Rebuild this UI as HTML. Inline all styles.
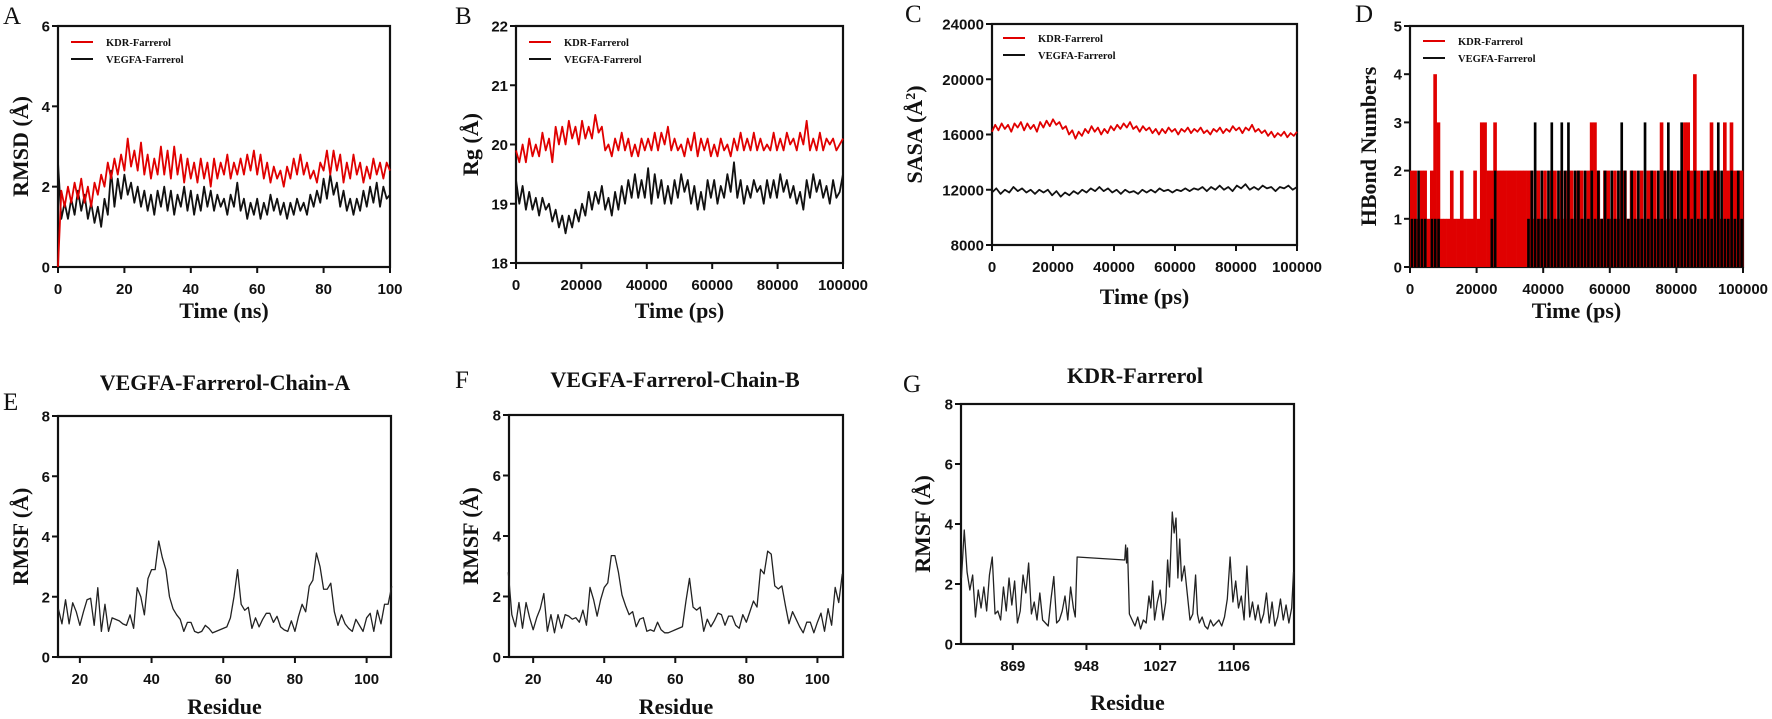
<!DOCTYPE html>
<html><head><meta charset="utf-8">
<style>
html,body{margin:0;padding:0;background:#fff;}
svg{display:block;}
.tk{font-family:"Liberation Sans",sans-serif;font-weight:bold;font-size:15px;fill:#111;}
.at{font-family:"Liberation Serif",serif;font-weight:bold;font-size:22px;fill:#111;}
.pl{font-family:"Liberation Serif",serif;font-size:25px;fill:#111;}
.lg{font-family:"Liberation Serif",serif;font-weight:bold;font-size:10.5px;fill:#111;}
.tt{font-family:"Liberation Serif",serif;font-weight:bold;font-size:22px;fill:#111;}
</style></head>
<body>
<svg id="fig" width="1772" height="719" viewBox="0 0 1772 719" xmlns="http://www.w3.org/2000/svg"></svg>
<script>
// ---------- DATA ----------
const rmsdTicksX = [0,20,40,60,80,100];
const rmsdTicksY = [0,2,4,6];
const rmsdKDR = [0,1.9,1.5,2.0,1.6,2.1,1.7,2.2,1.6,2.0,1.5,2.1,1.8,2.3,2.0,2.6,2.2,2.7,2.3,2.8,2.4,3.2,2.5,2.9,2.4,3.1,2.3,2.8,2.2,2.7,2.3,3.0,2.3,2.9,2.2,3.0,2.3,2.8,2.1,2.7,2.2,2.6,2.1,2.7,2.2,2.6,2.0,2.7,2.2,2.6,2.3,2.8,2.2,2.6,2.3,2.7,2.3,2.8,2.4,2.9,2.3,2.8,2.2,2.6,2.1,2.5,2.2,2.4,2.0,2.5,2.2,2.7,2.3,2.8,2.3,2.6,2.2,2.4,2.1,2.6,2.4,2.9,2.3,2.9,2.4,2.8,2.1,2.6,2.2,2.8,2.3,2.6,2.1,2.5,2.2,2.7,2.3,2.6,2.2,2.6,2.4];
const rmsdVEGFA = [2.6,1.2,1.6,1.2,1.7,1.3,1.9,1.4,1.8,1.2,1.6,1.1,1.5,1.0,1.7,1.3,2.4,1.5,2.2,1.7,2.3,1.8,2.1,1.6,2.0,1.5,1.9,1.4,1.8,1.3,1.9,1.5,2.0,1.4,1.9,1.3,1.8,1.5,2.0,1.4,1.9,1.3,1.8,1.4,2.0,1.5,1.9,1.4,1.8,1.5,1.7,1.3,1.8,1.5,2.1,1.4,1.7,1.2,1.6,1.3,1.7,1.2,1.6,1.3,1.8,1.4,1.7,1.3,1.6,1.2,1.6,1.3,1.7,1.4,1.6,1.3,1.8,1.5,1.9,1.6,2.2,1.7,2.3,1.8,2.1,1.5,1.9,1.4,1.7,1.3,1.7,1.4,1.9,1.5,2.0,1.6,2.1,1.5,2.0,1.7,1.8];

const psTicksX = [0,20000,40000,60000,80000,100000];
const rgTicksY = [18,19,20,21,22];
const rgKDR = [19.9,19.7,20.0,19.7,20.1,19.8,20.0,19.8,20.2,19.9,20.1,19.7,20.3,20.0,20.3,20.0,20.4,20.1,20.3,20.0,20.4,20.1,20.3,20.1,20.5,20.2,20.3,19.9,20.0,19.8,20.1,19.9,20.2,19.9,20.1,19.8,20.0,19.8,20.1,19.9,20.1,19.9,20.2,19.9,20.2,20.0,20.3,19.9,20.1,19.9,20.0,19.8,20.1,19.9,20.2,19.8,20.1,19.9,20.1,19.8,20.0,19.8,20.1,19.9,20.0,19.8,20.1,19.9,20.2,19.9,20.1,19.9,20.2,19.9,20.1,19.9,20.0,19.9,20.2,19.9,20.1,19.9,20.2,20.0,20.1,19.9,20.2,20.0,20.4,19.9,20.1,19.9,20.2,19.9,20.1,20.0,20.1,19.9,20.0,20.1];
const rgVEGFA = [19.4,19.0,19.3,18.9,19.2,18.9,19.1,18.8,19.1,18.9,19.0,18.7,18.9,18.6,18.8,18.5,18.8,18.6,18.9,18.7,19.0,18.8,19.2,18.9,19.2,19.0,19.3,18.9,19.1,18.8,19.2,18.9,19.3,19.0,19.4,19.1,19.5,19.1,19.4,19.1,19.6,19.0,19.5,19.1,19.4,19.0,19.3,19.0,19.4,19.1,19.5,19.2,19.4,19.0,19.3,18.9,19.2,18.9,19.4,19.1,19.4,19.0,19.3,19.1,19.5,19.2,19.7,19.1,19.4,19.0,19.3,19.1,19.4,19.2,19.3,19.0,19.4,19.1,19.4,19.1,19.5,19.2,19.4,19.1,19.3,19.0,19.2,18.9,19.4,19.1,19.5,19.2,19.4,19.1,19.3,19.0,19.4,19.1,19.2,19.5];

const sasaTicksY = [8000,12000,16000,20000,24000];
const sasaKDR = [16200,16700,16300,16800,16400,16700,16200,16800,16500,16900,16300,16800,16400,16700,16200,16900,16500,17000,16600,17100,16700,16900,16400,16600,16000,16300,15700,16200,15900,16400,16100,16600,16200,16500,16000,16400,16100,16600,16300,16700,16400,16800,16500,16900,16400,16600,16200,16600,16300,16500,16100,16400,16000,16400,16100,16500,16200,16400,16000,16400,16200,16500,16100,16400,16200,16500,16100,16300,16000,16400,16200,16500,16100,16400,16200,16600,16300,16500,16100,16500,16300,16700,16200,16400,16100,16300,15900,16200,15800,16100,15900,16200,15800,16100,15900,16200];
const sasaVEGFA = [11800,12100,11700,12000,11800,12200,11900,12100,11800,12000,11700,12000,11800,12000,11600,11900,11500,11800,11600,11900,11700,12000,11800,12100,11900,12200,11900,12100,11800,12000,11700,12000,11800,11900,11700,12000,11800,12000,11800,12100,11900,12000,11800,12000,11900,12100,11900,12100,12000,12200,11900,12200,12000,12300,12000,12200,11900,12300,12100,12400,12000,12200,12000,12300,12100,12200,11900,12200,12100,12300,12000,12200];

const hbTicksY = [0,1,2,3,4,5];
const hbKDR = [2,2,1,2,2,1,2,4,3,1, 1,1,2,1,1,2,1,1,1,2, 1,3,3,2,2,3,2,2,2,2, 2,2,2,2,2, 2,2,1,2,1,2,1,2,2,1, 2,1,2,2,1,2,2,1,2,3, 3,2,1,2,2,1,2,1,2,2, 1,2,2,1,2,1,2,2,2,1, 3,2,1,2,2,1,2,3,3,2, 4,2,1,2,2,3,2,2,1,3, 2,3,2,2,2];
const hbVEGFA = [1,1,2,1,1,0,1,1,1,0, 0,0,0,0,0,0,0,0,0,0, 0,0,0,0,1,2,0,0,0,0, 0,0,0,0,0, 1,2,3,1,2,1,2,3,1,2, 3,2,3,1,2,2,1,2,1,2, 1,2,1,2,1,2,1,2,3,2, 1,2,1,2,1,3,1,2,1,2, 1,2,3,2,1,2,3,1,2,1, 2,1,2,1,2,1,2,3,2,1, 1,2,1,2,1];

const rmsfTicksY = [0,2,4,6,8];
const resTicksEF = [20,40,60,80,100];
const chainAStart = 14;
const chainARmsf = [1.6,1.1,1.9,1.1,1.8,1.5,1.05,1.5,1.9,1.95,1.05,2.3,0.85,1.75,0.85,1.3,1.25,1.2,1.1,1.05,1.4,0.95,2.3,2.0,1.4,2.6,2.9,2.9,3.85,3.3,2.9,2.0,1.6,1.4,1.25,0.85,1.15,1.15,0.85,0.8,0.85,1.05,0.95,0.8,0.85,0.9,0.95,1.0,1.3,2.0,2.9,1.75,1.55,1.65,0.95,1.3,1.0,1.25,1.45,1.45,1.15,1.35,1.0,0.9,0.85,1.2,0.85,1.35,1.75,1.5,2.35,2.55,3.45,3.0,2.25,2.25,2.45,1.5,1.05,1.4,1.1,0.95,0.85,1.25,1.05,0.85,1.3,1.45,0.85,1.55,1.1,1.75,1.75,2.35];
const chainBStart = 13;
const chainBRmsf = [2.8,1.4,1.0,1.8,0.95,1.8,1.3,0.9,1.3,1.6,2.1,0.85,1.4,0.8,1.4,0.95,1.4,1.35,1.25,1.3,1.15,1.55,1.05,2.3,1.9,1.35,1.9,2.3,2.45,3.35,3.35,2.8,2.05,1.7,1.4,1.5,1.0,1.25,1.3,0.85,0.9,0.85,1.15,0.9,0.8,0.8,0.85,0.9,0.95,1.0,1.85,2.6,1.65,1.55,1.65,0.85,1.25,1.0,1.2,1.45,1.4,1.05,1.35,1.35,1.05,0.95,1.4,1.15,1.5,1.85,1.65,2.9,2.75,3.5,3.4,2.35,2.25,2.35,1.7,1.1,1.5,1.25,1.0,0.8,1.15,1.15,0.8,1.15,1.45,0.85,1.6,1.05,2.3,1.8,2.75];

const resTicksG = [869,948,1027,1106];
const kdrResidues = [814,817,820,823,826,829,832,835,838,841,844,847,850,853,856,859,862,865,868,871,874,877,880,883,886,889,892,895,898,901,904,907,910,913,916,919,922,925,928,931,934,936,938,989,990,991,992,994,997,1000,1003,1006,1009,1012,1015,1017,1019,1021,1024,1027,1030,1033,1035,1037,1040,1042,1044,1046,1048,1050,1053,1056,1059,1062,1065,1067,1069,1072,1075,1078,1081,1084,1087,1090,1093,1096,1099,1102,1105,1108,1111,1114,1117,1120,1123,1126,1129,1132,1135,1138,1141,1144,1147,1150,1153,1156,1159,1162,1165,1168,1170];
const kdrRmsf = [2.2,3.8,2.4,1.8,2.3,0.9,1.8,1.2,1.9,1.1,2.3,2.9,1.0,1.1,0.8,1.9,1.1,2.2,1.3,2.1,0.7,1.1,2.3,1.7,2.7,1.0,1.4,0.8,1.7,0.8,0.7,0.6,1.5,2.25,0.7,0.8,1.1,1.6,0.8,1.9,1.2,0.9,2.9,2.8,3.3,2.7,3.2,1.0,0.8,0.6,0.9,0.5,0.8,0.7,1.6,1.2,2.1,0.8,1.4,1.8,0.8,1.4,2.8,1.9,4.4,3.7,4.2,2.2,3.5,2.1,2.6,1.7,0.8,1.0,2.3,1.0,0.7,0.9,0.6,0.5,0.8,0.6,0.7,0.8,0.6,0.9,1.5,2.9,1.4,2.1,1.2,1.6,0.8,2.6,0.9,1.4,0.8,1.3,0.7,1.0,1.7,0.7,1.4,0.6,0.9,1.5,0.8,1.3,0.7,1.2,2.4];

// ---------- DRAWING ----------
const NS = 'http://www.w3.org/2000/svg';
const fig = document.getElementById('fig');
function el(tag, attrs, parent, txt){
  const e = document.createElementNS(NS, tag);
  for (const k in attrs) e.setAttribute(k, attrs[k]);
  if (txt !== undefined) e.textContent = txt;
  (parent || fig).appendChild(e);
  return e;
}
function lin(d0,d1,r0,r1){ return v => r0 + (v-d0)*(r1-r0)/(d1-d0); }

function axes(p){
  const g = el('g', {});
  
  
  const sx = lin(p.xmin,p.xmax,p.L,p.R), sy = lin(p.ymin,p.ymax,p.B,p.T);
  const fr = el('rect', {x:p.L,y:p.T,width:p.R-p.L,height:p.B-p.T,fill:'none',stroke:'#111','stroke-width':2.2}, g);
  
  
  p.yt.forEach(v => {
    const y = sy(v);
    el('line', {x1:p.L-6,x2:p.L,y1:y,y2:y,stroke:'#111','stroke-width':2}, g);
    const t = el('text', {x:p.L-8,y:y+5.5,'text-anchor':'end',class:'tk'}, g, v);
    
    
  });
  p.xt.forEach(v => {
    const x = sx(v);
    el('line', {x1:x,x2:x,y1:p.B,y2:p.B+6,stroke:'#111','stroke-width':2}, g);
    const t = el('text', {x:x,y:p.B+27,'text-anchor':'middle',class:'tk'}, g, v);
    
    
  });
  const yl = el('text', {x:p.ytx,y:(p.T+p.B)/2,'text-anchor':'middle',class:'at',transform:`rotate(-90 ${p.ytx} ${(p.T+p.B)/2})`}, g, '');
  yl.innerHTML = p.ytitle;
  
  
  const xl = el('text', {x:(p.L+p.R)/2,y:p.xty,'text-anchor':'middle',class:'at'}, g, p.xtitle);
  
  
  const pl = el('text', {x:p.lx,y:p.ly,class:'pl'}, g, p.letter);
  
  
  if (p.title){
    const tt = el('text', {x:p.tx,y:p.ty,'text-anchor':'middle',class:'tt'}, g, p.title);
    
    
  }
  return {g, sx, sy};
}
function legend(g, x, y){
  const e1 = el('g', {}, g);
  
  
  el('line', {x1:x,x2:x+22,y1:y,y2:y,stroke:'#e00000','stroke-width':2}, e1);
  el('text', {x:x+35,y:y+4,class:'lg'}, e1, 'KDR-Farrerol');
  const e2 = el('g', {}, g);
  
  
  el('line', {x1:x,x2:x+22,y1:y+17,y2:y+17,stroke:'#111','stroke-width':2}, e2);
  el('text', {x:x+35,y:y+21,class:'lg'}, e2, 'VEGFA-Farrerol');
}
function series(ax, xs, ys, color, w, name){
  const d = ys.map((v,i) => (i?'L':'M') + ax.sx(xs[i]).toFixed(2) + ' ' + ax.sy(v).toFixed(2)).join('');
  const p = el('path', {d:d,fill:'none',stroke:color,'stroke-width':w,'stroke-linejoin':'round'}, ax.g);
  
  
}
function spread(arr, max){ return arr.map((_,i) => i*max/(arr.length-1)); }

// Panel A
const A = axes({name:'panel-a-rmsd',L:58,R:390,T:26,B:267,xmin:0,xmax:100,ymin:0,ymax:6,xt:rmsdTicksX,yt:rmsdTicksY,ytx:28,ytitle:'RMSD (Å)',xtitle:'Time (ns)',xty:318,letter:'A',lx:3,ly:24});
series(A, spread(rmsdVEGFA,100), rmsdVEGFA, '#111', 1.8, 'line-vegfa');
series(A, spread(rmsdKDR,100), rmsdKDR, '#e00000', 1.8, 'line-kdr');
legend(A.g, 71, 42);

// Panel B
const Bp = axes({name:'panel-b-rg',L:516,R:843,T:26,B:263,xmin:0,xmax:100000,ymin:18,ymax:22,xt:psTicksX,yt:rgTicksY,ytx:478,ytitle:'Rg (Å)',xtitle:'Time (ps)',xty:318,letter:'B',lx:455,ly:24});
series(Bp, spread(rgVEGFA,100000), rgVEGFA, '#111', 1.8, 'line-vegfa');
series(Bp, spread(rgKDR,100000), rgKDR, '#e00000', 1.8, 'line-kdr');
legend(Bp.g, 529, 42);

// Panel C
const Cp = axes({name:'panel-c-sasa',L:992,R:1297,T:24,B:245,xmin:0,xmax:100000,ymin:8000,ymax:24000,xt:psTicksX,yt:sasaTicksY,ytx:922,ytitle:'SASA (Å<tspan baseline-shift="super" font-size="14">2</tspan>)',xtitle:'Time (ps)',xty:304,letter:'C',lx:905,ly:22});
series(Cp, spread(sasaVEGFA,100000), sasaVEGFA, '#111', 1.8, 'line-vegfa');
series(Cp, spread(sasaKDR,100000), sasaKDR, '#e00000', 1.8, 'line-kdr');
legend(Cp.g, 1003, 38);

// Panel D
const Dp = axes({name:'panel-d-hbond',L:1410,R:1743,T:26,B:267,xmin:0,xmax:100000,ymin:0,ymax:5,xt:psTicksX,yt:hbTicksY,ytx:1376,ytitle:'HBond Numbers',xtitle:'Time (ps)',xty:318,letter:'D',lx:1355,ly:22});
(function(){
  const bw = 100000/hbKDR.length;
  hbKDR.forEach((v,i) => {
    const x0 = Dp.sx(i*bw), x1 = Dp.sx((i+1)*bw);
    const r = el('rect', {x:x0,y:Dp.sy(v),width:x1-x0+0.3,height:Dp.sy(0)-Dp.sy(v),fill:'#e00000'}, Dp.g);
    
    
  });
  hbVEGFA.forEach((v,i) => {
    if (!v) return;
    const x0 = Dp.sx(i*bw), x1 = Dp.sx((i+1)*bw);
    const r = el('rect', {x:x0+0.6,y:Dp.sy(v),width:(x1-x0)*0.8,height:Dp.sy(0)-Dp.sy(v),fill:'#000'}, Dp.g);
    
    
  });
})();
legend(Dp.g, 1423, 41);

// Panel E
const Ep = axes({name:'panel-e-rmsf-chain-a',L:58,R:391,T:416,B:657,xmin:13.9,xmax:106.8,ymin:0,ymax:8,xt:resTicksEF,yt:rmsfTicksY,ytx:28,ytitle:'RMSF (Å)',xtitle:'Residue',xty:714,letter:'E',lx:3,ly:410,title:'VEGFA-Farrerol-Chain-A',tx:225,ty:390});
series(Ep, chainARmsf.map((_,i)=>chainAStart+i), chainARmsf, '#222', 1.3, 'line-rmsf');

// Panel F
const Fp = axes({name:'panel-f-rmsf-chain-b',L:509,R:843,T:415,B:657,xmin:13.2,xmax:107.2,ymin:0,ymax:8,xt:resTicksEF,yt:rmsfTicksY,ytx:478,ytitle:'RMSF (Å)',xtitle:'Residue',xty:714,letter:'F',lx:455,ly:388,title:'VEGFA-Farrerol-Chain-B',tx:675,ty:387});
series(Fp, chainBRmsf.map((_,i)=>chainBStart+i), chainBRmsf, '#222', 1.3, 'line-rmsf');

// Panel G
const Gp = axes({name:'panel-g-rmsf-kdr',L:961,R:1294,T:404,B:644,xmin:813.5,xmax:1170.5,ymin:0,ymax:8,xt:resTicksG,yt:rmsfTicksY,ytx:930,ytitle:'RMSF (Å)',xtitle:'Residue',xty:710,letter:'G',lx:903,ly:392,title:'KDR-Farrerol',tx:1135,ty:383});
series(Gp, kdrResidues, kdrRmsf, '#222', 1.3, 'line-rmsf');
</script>
</body></html>
